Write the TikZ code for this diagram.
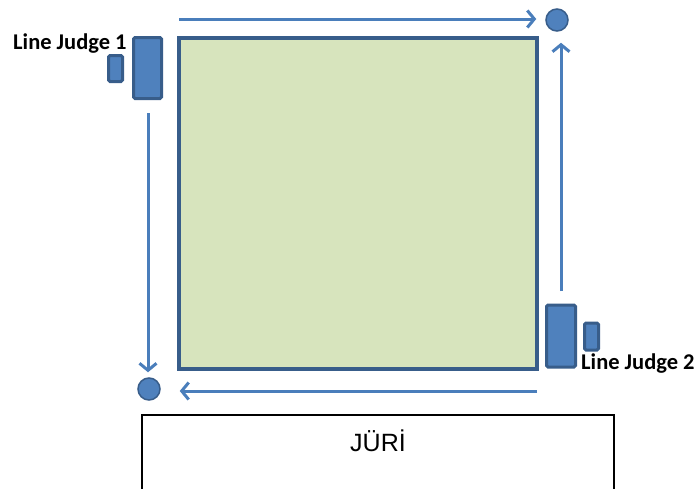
\documentclass[tikz,border=0pt]{standalone}
\usepackage{fontspec}
\setmainfont{Carlito}
\newfontfamily\arialfont{Liberation Sans}
\usetikzlibrary{arrows.meta}
\definecolor{judgefill}{HTML}{4F81BD}
\definecolor{judgeline}{HTML}{385D8A}
\definecolor{arrowblue}{HTML}{4A7EBB}
\definecolor{fieldfill}{HTML}{D7E4BD}
\tikzset{
  judge/.style={draw=judgeline,fill=judgefill,line width=3pt,rounded corners=1.5pt,inner sep=0pt},
  flag/.style={circle,draw=judgeline,fill=judgefill,line width=1.5pt,minimum size=22pt,inner sep=0pt},
  move/.style={arrowblue,line width=3pt,-{Straight Barb[length=7pt,width=17pt,line width=3pt]}},
  judgename/.style={font=\bfseries\fontsize{22.5pt}{24pt}\selectfont,inner sep=0pt}
}
\begin{document}
\begin{tikzpicture}[x=1pt,y=-1pt]
    \useasboundingbox[fill=white] (0,0) rectangle (699,488);
    \node[draw=judgeline,fill=fieldfill,line width=3.5pt,minimum width=358pt,minimum height=331pt,inner sep=0pt] (field) at (358,203.5) {};
    \node[judge,minimum width=28pt,minimum height=61pt] (judgeA) at (147.5,68) {};
    \node[judge,minimum width=14pt,minimum height=26pt] (judgeAsmall) at (115.5,68.5) {};
    \node[judge,minimum width=29pt,minimum height=62pt] (judgeB) at (561,336) {};
    \node[judge,minimum width=14pt,minimum height=27pt] (judgeBsmall) at (591.5,336.5) {};
    \node[judgename,anchor=base west] (labelA) at (13,49.5) {Line Judge 1};
    \node[judgename,anchor=base west] (labelB) at (581,369) {Line Judge 2};
    \node[flag] (flagA) at (557,20) {};
    \node[flag] (flagB) at (149,389) {};
    \coordinate (topstart) at (179,19);
    \coordinate (rightstart) at (561,291);
    \coordinate (leftstart) at (148,113);
    \coordinate (bottomstart) at (537,391);
    \draw[move,shorten >=9pt] (topstart) -- (topstart -| flagA.west);
    \draw[move,shorten >=11pt] (rightstart) -- (rightstart |- flagA.south);
    \draw[move,shorten >=5pt] (leftstart) -- (leftstart |- flagB.north);
    \draw[move,shorten >=19pt] (bottomstart) -- (bottomstart -| flagB.east);
    \node[draw=black,line width=1.5pt,minimum width=472pt,minimum height=100pt,anchor=north,inner sep=0pt] (jury) at (378,414) {};
    \node[font=\arialfont\fontsize{25pt}{28pt}\selectfont,anchor=base,inner sep=0pt] (juryname) at (jury.north |- 0,451) {JÜRİ};
\end{tikzpicture}
\end{document}
